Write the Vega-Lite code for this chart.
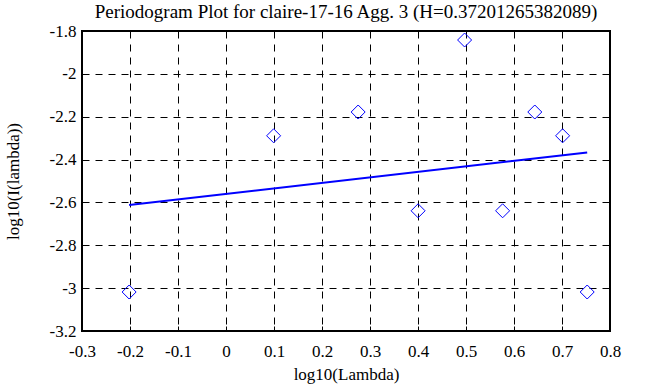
{
  "$schema": "https://vega.github.io/schema/vega-lite/v6.json",
  "width": 528,
  "height": 300,
  "autosize": "none",
  "padding": {"left": 82, "top": 31, "right": 48, "bottom": 56},
  "background": "white",
  "title": {
    "text": "Periodogram Plot for claire-17-16 Agg. 3 (H=0.37201265382089)",
    "font": "Liberation Serif",
    "fontSize": 19,
    "fontWeight": "normal",
    "color": "black",
    "anchor": "middle",
    "offset": 0
  },
  "config": {
    "view": {"stroke": "black", "strokeWidth": 2},
    "axis": {
      "labelFont": "Liberation Serif",
      "labelFontSize": 17,
      "labelColor": "black",
      "titleFont": "Liberation Serif",
      "titleFontSize": 17,
      "titleFontWeight": "normal",
      "titleColor": "black",
      "domain": false,
      "grid": true,
      "gridColor": "black",
      "gridDash": [7, 6],
      "gridWidth": 1,
      "gridOpacity": 1,
      "tickColor": "black",
      "tickSize": -5,
      "tickWidth": 1
    }
  },
  "datasets": {
    "pts": [
      {"x": -0.2018, "y": -3.018},
      {"x": 0.0992, "y": -2.289},
      {"x": 0.2753, "y": -2.178},
      {"x": 0.4002, "y": -2.639},
      {"x": 0.4971, "y": -1.842},
      {"x": 0.5763, "y": -2.639},
      {"x": 0.6433, "y": -2.178},
      {"x": 0.7013, "y": -2.289},
      {"x": 0.7525, "y": -3.018}
    ],
    "fit": [
      {"x": -0.2018, "y": -2.612},
      {"x": 0.7525, "y": -2.367}
    ]
  },
  "layer": [
    {
      "data": {"name": "pts"},
      "mark": {"type": "point", "shape": "diamond", "size": 196, "filled": false, "stroke": "#0000ff", "strokeWidth": 1, "opacity": 1},
      "encoding": {
        "x": {"field": "x", "type": "quantitative", "scale": {"domain": [-0.3, 0.8], "nice": false, "zero": false},
          "axis": {"title": "log10(Lambda)", "values": [-0.3, -0.2, -0.1, 0, 0.1, 0.2, 0.3, 0.4, 0.5, 0.6, 0.7, 0.8], "labelExpr": "'' + datum.value", "labelFont": "Liberation Serif", "labelFontSize": 17, "labelPadding": 17, "titleFont": "Liberation Serif", "titlePadding": 7, "labelFlush": false}},
        "y": {"field": "y", "type": "quantitative", "scale": {"domain": [-3.2, -1.8], "nice": false, "zero": false},
          "axis": {"title": "log10(I(lambda))", "values": [-3.2, -3, -2.8, -2.6, -2.4, -2.2, -2, -1.8], "labelExpr": "'' + datum.value", "labelFont": "Liberation Serif", "labelFontSize": 17, "labelPadding": 11, "titleFont": "Liberation Serif", "titlePadding": 27, "labelFlush": false}}
      }
    },
    {
      "data": {"name": "fit"},
      "mark": {"type": "line", "color": "#0000ff", "strokeWidth": 2},
      "encoding": {
        "x": {"field": "x", "type": "quantitative", "scale": {"domain": [-0.3, 0.8], "nice": false, "zero": false},
          "axis": {"orient": "top", "title": null, "labels": false, "grid": false, "values": [-0.3, -0.2, -0.1, 0, 0.1, 0.2, 0.3, 0.4, 0.5, 0.6, 0.7, 0.8]}},
        "y": {"field": "y", "type": "quantitative", "scale": {"domain": [-3.2, -1.8], "nice": false, "zero": false},
          "axis": {"orient": "right", "title": null, "labels": false, "grid": false, "values": [-3.2, -3, -2.8, -2.6, -2.4, -2.2, -2, -1.8]}}
      }
    }
  ],
  "resolve": {"axis": {"x": "independent", "y": "independent"}}
}
